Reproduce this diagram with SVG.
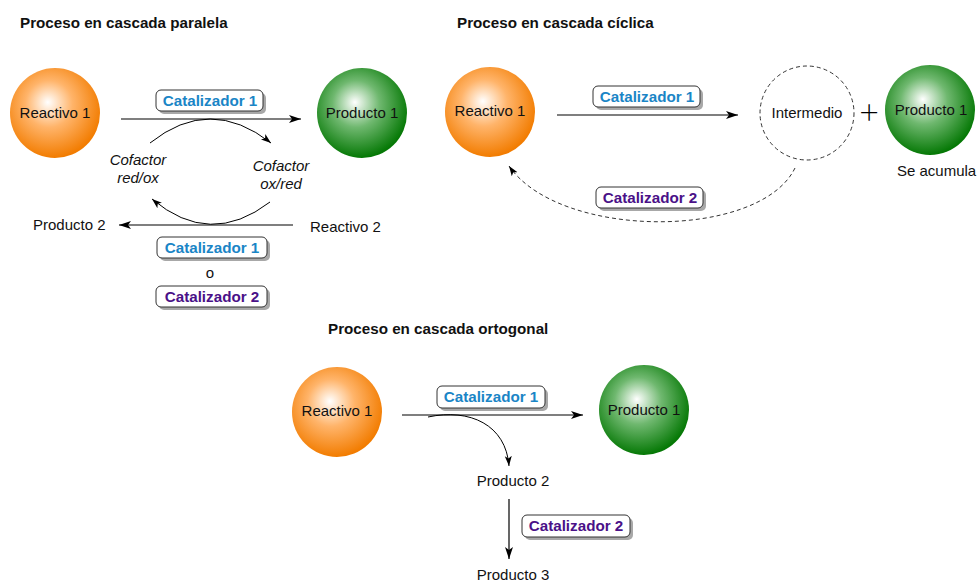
<svg xmlns="http://www.w3.org/2000/svg" width="978" height="582" viewBox="0 0 978 582">
<defs>
<radialGradient id="gOr" cx="0.45" cy="0.42" r="0.58" fx="0.42" fy="0.38">
<stop offset="0" stop-color="#ffffff"/>
<stop offset="0.45" stop-color="#ffb46a"/>
<stop offset="1" stop-color="#f27c00"/>
</radialGradient>
<radialGradient id="gGr" cx="0.45" cy="0.42" r="0.58" fx="0.42" fy="0.38">
<stop offset="0" stop-color="#ffffff"/>
<stop offset="0.45" stop-color="#6fb86f"/>
<stop offset="1" stop-color="#057805"/>
</radialGradient>
<marker id="ah" markerUnits="userSpaceOnUse" markerWidth="14" markerHeight="10" refX="12" refY="5" orient="auto">
<path d="M0,1 L12,5 L0,9 L3,5 z" fill="#000"/>
</marker>
<marker id="ahs" markerUnits="userSpaceOnUse" markerWidth="12" markerHeight="10" refX="10" refY="5" orient="auto">
<path d="M0,1.5 L10,5 L0,8.5 L2.5,5 z" fill="#000"/>
</marker>
</defs>
<style>
text{font-family:"Liberation Sans",Arial,sans-serif;font-size:15px;fill:#111}
.title{font-weight:bold;font-size:15.2px}
.mid{text-anchor:middle}
.it{font-style:italic}
.cat{font-weight:bold;text-anchor:middle;font-size:15.2px}
.c1{fill:#1a85c6}
.c2{fill:#4a1188}
.box{fill:#fff;stroke:#333;stroke-width:1}
.shadow{fill:#a8a8a8}
.ln{fill:none;stroke:#000;stroke-width:1.2}
.thin{fill:none;stroke:#000;stroke-width:1}
.dash{fill:none;stroke:#333;stroke-width:1;stroke-dasharray:4 3}
.or{fill:url(#gOr)}
.gr{fill:url(#gGr)}
.plus{font-family:Lato,"DejaVu Sans","Liberation Sans",sans-serif;font-weight:300;font-size:34px;text-anchor:middle;fill:#000}
</style>

<!-- titles -->
<text class="title" x="20" y="28">Proceso en cascada paralela</text>
<text class="title" x="457" y="28">Proceso en cascada cíclica</text>
<text class="title" x="328" y="334">Proceso en cascada ortogonal</text>

<!-- connectors -->
<g id="connectors">
<line class="ln" x1="121" y1="119" x2="301" y2="119" marker-end="url(#ah)"/>
<path class="thin" d="M150,143 Q210,95 271,143" marker-end="url(#ahs)"/>
<path class="thin" d="M270,202 Q210,248 152,199" marker-end="url(#ahs)"/>
<line class="ln" x1="293" y1="225" x2="119" y2="225" marker-end="url(#ah)"/>

<line class="ln" x1="557" y1="115" x2="738" y2="115" marker-end="url(#ah)"/>
<path class="dash" d="M795,168 C760,240 560,240 509,166" marker-end="url(#ahs)"/>

<line class="ln" x1="402" y1="415" x2="583" y2="415" marker-end="url(#ah)"/>
<path class="thin" d="M428,417 C470,408 506,425 509,466" marker-end="url(#ahs)"/>
<line class="ln" x1="509" y1="499" x2="509" y2="559" marker-end="url(#ah)"/>
</g>

<!-- panel 1 -->
<g id="p1-reactivo1">
<circle class="or" cx="55" cy="113" r="45"/>
<text class="mid" x="55" y="118">Reactivo 1</text>
</g>
<g id="p1-producto1">
<circle class="gr" cx="362" cy="113" r="45"/>
<text class="mid" x="362" y="118">Producto 1</text>
</g>
<g id="p1-cat1">
<rect class="shadow" x="159" y="93" width="107" height="21" rx="5"/>
<rect class="box" x="156" y="90" width="107" height="21" rx="5"/>
<text class="cat c1" x="210" y="106">Catalizador 1</text>
</g>
<g id="p1-cofactor-left">
<text class="mid it" x="138" y="165">Cofactor</text>
<text class="mid it" x="138" y="183">red/ox</text>
</g>
<g id="p1-cofactor-right">
<text class="mid it" x="281" y="171">Cofactor</text>
<text class="mid it" x="281" y="189">ox/red</text>
</g>
<g id="p1-producto2">
<text x="33" y="230">Producto 2</text>
</g>
<g id="p1-reactivo2">
<text x="310" y="232">Reactivo 2</text>
</g>
<g id="p1-cat1b">
<rect class="shadow" x="160" y="240" width="110" height="21" rx="5"/>
<rect class="box" x="157" y="237" width="110" height="21" rx="5"/>
<text class="cat c1" x="212" y="253">Catalizador 1</text>
</g>
<g id="p1-o">
<text class="mid" x="210" y="278">o</text>
</g>
<g id="p1-cat2">
<rect class="shadow" x="159" y="289" width="111" height="21" rx="5"/>
<rect class="box" x="156" y="286" width="111" height="21" rx="5"/>
<text class="cat c2" x="212" y="302">Catalizador 2</text>
</g>

<!-- panel 2 -->
<g id="p2-reactivo1">
<circle class="or" cx="490" cy="112" r="45"/>
<text class="mid" x="490" y="116">Reactivo 1</text>
</g>
<g id="p2-cat1">
<rect class="shadow" x="596" y="89" width="107" height="21" rx="5"/>
<rect class="box" x="593" y="86" width="107" height="21" rx="5"/>
<text class="cat c1" x="647" y="102">Catalizador 1</text>
</g>
<g id="p2-intermedio">
<circle class="dash" cx="807" cy="113" r="47"/>
<text class="mid" x="807" y="118">Intermedio</text>
</g>
<g id="p2-plus">
<text class="plus" x="869" y="124">+</text>
</g>
<g id="p2-producto1">
<circle class="gr" cx="930" cy="110" r="45"/>
<text class="mid" x="931" y="115">Producto 1</text>
<text x="897" y="176">Se acumula</text>
</g>
<g id="p2-cat2">
<rect class="shadow" x="599" y="190" width="107" height="21" rx="5"/>
<rect class="box" x="596" y="187" width="107" height="21" rx="5"/>
<text class="cat c2" x="650" y="203">Catalizador 2</text>
</g>

<!-- panel 3 -->
<g id="p3-reactivo1">
<circle class="or" cx="337" cy="412" r="45"/>
<text class="mid" x="337" y="416">Reactivo 1</text>
</g>
<g id="p3-cat1">
<rect class="shadow" x="440" y="389" width="108" height="22" rx="5"/>
<rect class="box" x="437" y="386" width="108" height="22" rx="5"/>
<text class="cat c1" x="491" y="402">Catalizador 1</text>
</g>
<g id="p3-producto1">
<circle class="gr" cx="644" cy="410" r="45"/>
<text class="mid" x="644" y="415">Producto 1</text>
</g>
<g id="p3-producto2">
<text class="mid" x="513" y="486">Producto 2</text>
</g>
<g id="p3-cat2">
<rect class="shadow" x="525" y="518" width="108" height="22" rx="5"/>
<rect class="box" x="522" y="515" width="108" height="22" rx="5"/>
<text class="cat c2" x="576" y="531">Catalizador 2</text>
</g>
<g id="p3-producto3">
<text class="mid" x="513" y="580">Producto 3</text>
</g>
</svg>
